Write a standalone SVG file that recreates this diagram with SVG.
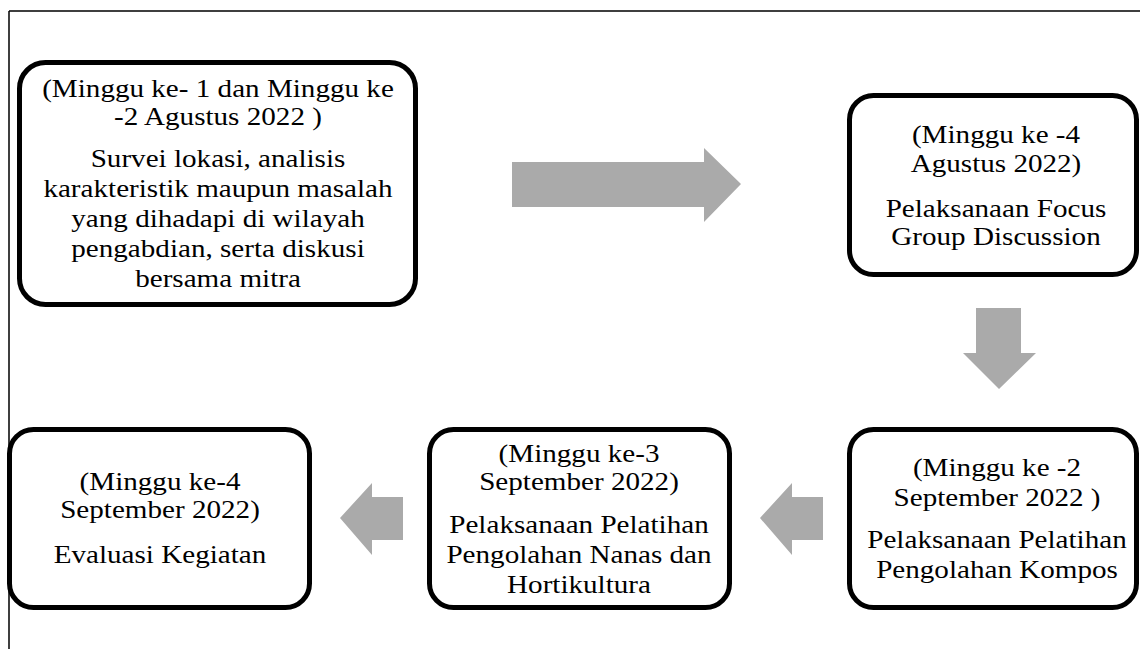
<svg xmlns="http://www.w3.org/2000/svg" width="1140" height="649" viewBox="0 0 1140 649">
<style>
.box{fill:#fff;stroke:#000;stroke-width:5}
.arr{fill:#aaaaaa;stroke:none}
</style>
<rect width="1140" height="649" fill="#fff"/>
<g id="frame" fill="none" stroke="#000" stroke-width="1.5">
<path d="M9 11 H1140 M9 11 V649"/>
</g>
<g id="connectors">
<polygon class="arr" points="512,162 704,162 704,148 741,184 704,222 704,207 512,207"/>
<polygon class="arr" points="976,308 1021,308 1021,353 1036,353 999,389 963,353 976,353"/>
<polygon class="arr" points="823,497 792,497 792,483 760,518 792,555 792,540 823,540"/>
<polygon class="arr" points="403,497 372,497 372,483 340,518 372,555 372,540 403,540"/>
</g>
<g font-family="Liberation Serif, Times New Roman, serif" font-size="26" fill="#000" text-anchor="middle">
<g id="node1">
<rect class="box" x="19.5" y="62.5" width="396" height="242" rx="26"/>
<g transform="translate(218 0) scale(1.12 1)"><text><tspan x="0" y="97">(Minggu ke- 1 dan Minggu ke</tspan><tspan x="0" y="125">-2 Agustus 2022 )</tspan><tspan x="0" y="167">Survei lokasi, analisis</tspan><tspan x="0" y="197">karakteristik maupun masalah</tspan><tspan x="0" y="227">yang dihadapi di wilayah</tspan><tspan x="0" y="257">pengabdian, serta diskusi</tspan><tspan x="0" y="287">bersama mitra</tspan></text></g>
</g>
<g id="node2">
<rect class="box" x="849.5" y="95.5" width="287" height="179" rx="24"/>
<g transform="translate(996 0) scale(1.12 1)"><text><tspan x="0" y="143">(Minggu ke -4</tspan><tspan x="0" y="172">Agustus 2022)</tspan><tspan x="0" y="217">Pelaksanaan Focus</tspan><tspan x="0" y="245">Group Discussion</tspan></text></g>
</g>
<g id="node3">
<rect class="box" x="849.5" y="429.5" width="287" height="178" rx="24"/>
<g transform="translate(997 0) scale(1.12 1)"><text><tspan x="0" y="476">(Minggu ke -2</tspan><tspan x="0" y="506">September 2022 )</tspan><tspan x="0" y="548">Pelaksanaan Pelatihan</tspan><tspan x="0" y="578">Pengolahan Kompos</tspan></text></g>
</g>
<g id="node4">
<rect class="box" x="429.5" y="429.5" width="300" height="178" rx="24"/>
<g transform="translate(579 0) scale(1.12 1)"><text><tspan x="0" y="462">(Minggu ke-3</tspan><tspan x="0" y="490">September 2022)</tspan><tspan x="0" y="533">Pelaksanaan Pelatihan</tspan><tspan x="0" y="563">Pengolahan Nanas dan</tspan><tspan x="0" y="593">Hortikultura</tspan></text></g>
</g>
<g id="node5">
<rect class="box" x="9.5" y="429.5" width="300" height="178" rx="24"/>
<g transform="translate(160 0) scale(1.12 1)"><text><tspan x="0" y="490">(Minggu ke-4</tspan><tspan x="0" y="518">September 2022)</tspan><tspan x="0" y="563">Evaluasi Kegiatan</tspan></text></g>
</g>
</g>
</svg>
